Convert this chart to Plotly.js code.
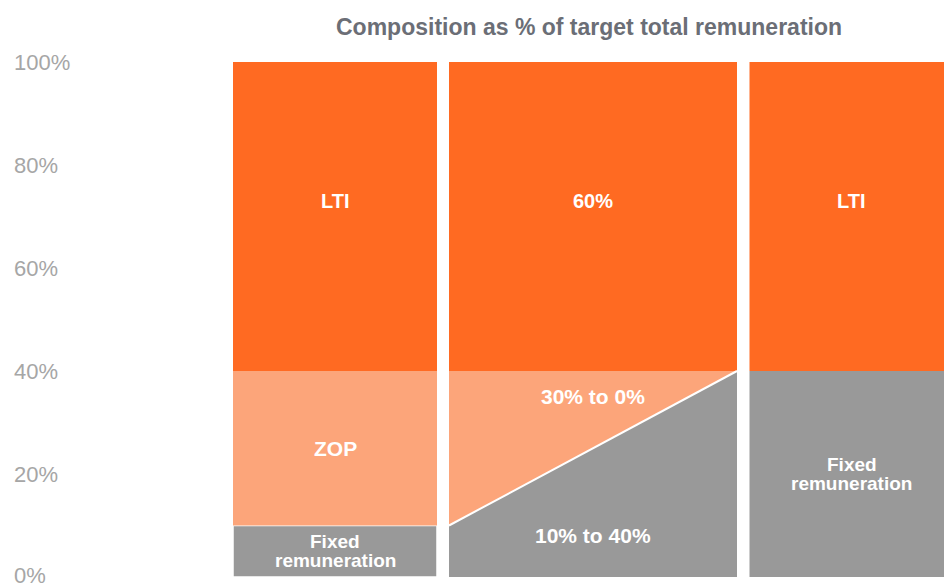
<!DOCTYPE html>
<html>
<head>
<meta charset="utf-8">
<script src="https://cdn.plot.ly/plotly-3.0.1.min.js"></script>
<style>html,body{margin:0;padding:0;background:#fff;}#chart{width:944px;height:585px;}</style>
</head>
<body>
<div id="chart"></div>
<script>
// ---- data ----
const columns = ["Current", "Transition", "Target"];
const fixedPct = [10, null, 40];        // fixed remuneration (cols 1 & 3)
const zopPct = [30, null, 0];           // ZOP
const ltiPct = [60, 60, 60];            // LTI
const transFixedFrom = 10, transFixedTo = 40;   // middle column fixed range
const transZopFrom = 30, transZopTo = 0;        // middle column ZOP range
const ltiLabels = ["LTI", "60%", "LTI"];
const fixedLabelLines = ["Fixed", "remuneration"];
const zopLabel = "ZOP";
const transZopLabel = "30% to 0%";
const transFixedLabel = "10% to 40%";
const yTicks = [0, 20, 40, 60, 80, 100];
const yTickText = ["0%", "20%", "40%", "60%", "80%", "100%"];
const titleText = "Composition as % of target total remuneration";

// ---- layout geometry (x axis in column units) ----
const colStart = [233, 449, 749.5];
const colWidth = [204, 288, 204];
const colCenter = colStart.map((s, i) => s + colWidth[i] / 2);

const C_LTI = "#FF6A22", C_ZOP = "#FCA57A", C_FIX = "#999999";
const FONT = "Liberation Sans, Arial, sans-serif";

const traces = [];
traces.push({
  type: "bar", x: [colCenter[0], colCenter[2]], y: [fixedPct[0], fixedPct[2]],
  base: [0, 0], width: [colWidth[0], colWidth[2]],
  marker: {color: C_FIX, line: {color: "#fff", width: [1.5, 0]}},
  hoverinfo: "skip", showlegend: false
});
traces.push({
  type: "bar", x: [colCenter[0]], y: [zopPct[0]], base: [fixedPct[0]],
  width: [colWidth[0]], marker: {color: C_ZOP, line: {width: 0}},
  hoverinfo: "skip", showlegend: false
});
traces.push({
  type: "bar", x: colCenter, y: ltiPct, base: ltiPct.map(v => 100 - v),
  width: colWidth, marker: {color: C_LTI, line: {width: 0}},
  hoverinfo: "skip", showlegend: false
});
const mx0 = colStart[1], mx1 = colStart[1] + colWidth[1];
traces.push({
  type: "scatter", mode: "lines", fill: "toself", fillcolor: C_ZOP,
  x: [mx0, mx0, mx1, mx0], y: [transFixedFrom, transFixedFrom + transZopFrom, transFixedTo + transZopTo, transFixedFrom],
  line: {width: 0, color: C_ZOP}, hoverinfo: "skip", showlegend: false
});
traces.push({
  type: "scatter", mode: "lines", fill: "toself", fillcolor: C_FIX,
  x: [mx0, mx0, mx1, mx1, mx0], y: [0, transFixedFrom, transFixedTo, 0, 0],
  line: {width: 0, color: C_FIX}, hoverinfo: "skip", showlegend: false
});
traces.push({
  type: "scatter", mode: "lines",
  x: [mx0, mx1], y: [transFixedFrom, transFixedTo],
  line: {width: 2, color: "#ffffff"}, hoverinfo: "skip", showlegend: false
});

function ann(x, y, text, size, yshift) {
  return {x: x, y: y, xref: "x", yref: "y", text: "<b>" + text + "</b>", showarrow: false,
          font: {family: FONT, size: size, color: "#ffffff"}, align: "center",
          xanchor: "center", yanchor: "middle", yshift: yshift || 0};
}
const annotations = [
  ann(colCenter[0], 73, ltiLabels[0], 20),
  ann(colCenter[1], 73, ltiLabels[1], 20),
  ann(colCenter[2], 73, ltiLabels[2], 20),
  ann(colCenter[0], fixedPct[0] + zopPct[0] / 2, zopLabel, 21),
  ann(colCenter[0], fixedPct[0] / 2, fixedLabelLines[0], 19, 9.5),
  ann(colCenter[0], fixedPct[0] / 2, fixedLabelLines[1], 19, -9.5),
  ann(colCenter[2], fixedPct[2] / 2, fixedLabelLines[0], 19, 9.5),
  ann(colCenter[2], fixedPct[2] / 2, fixedLabelLines[1], 19, -9.5),
  ann(colCenter[1], 35, transZopLabel, 21),
  ann(colCenter[1], 8, transFixedLabel, 21),
  {x: (colStart[0] + 944) / 2, y: 1, xref: "x", yref: "paper", yshift: 35,
   text: "<b>" + titleText + "</b>", showarrow: false,
   font: {family: FONT, size: 23, color: "#6B6E76"},
   xanchor: "center", yanchor: "middle"}
];
yTicks.forEach((v, i) => annotations.push({
  x: 0, xref: "paper", y: v, yref: "y", text: yTickText[i], showarrow: false,
  xanchor: "left", yanchor: "middle", yshift: v === 0 ? 2 : 0,
  font: {family: FONT, size: 22, color: "#A6A6A6"}
}));

const layout = {
  width: 944, height: 585,
  margin: {l: 12, r: 0, t: 62, b: 8, pad: 0},
  paper_bgcolor: "#ffffff", plot_bgcolor: "#ffffff",
  barmode: "overlay",
  xaxis: {range: [12, 944], visible: false, fixedrange: true},
  yaxis: {range: [0, 100], tickvals: yTicks, showticklabels: false, ticks: "",
          showgrid: false, zeroline: false, showline: false},
  annotations: annotations
};

Plotly.newPlot("chart", traces, layout, {displayModeBar: false, staticPlot: true});
</script>
</body>
</html>
